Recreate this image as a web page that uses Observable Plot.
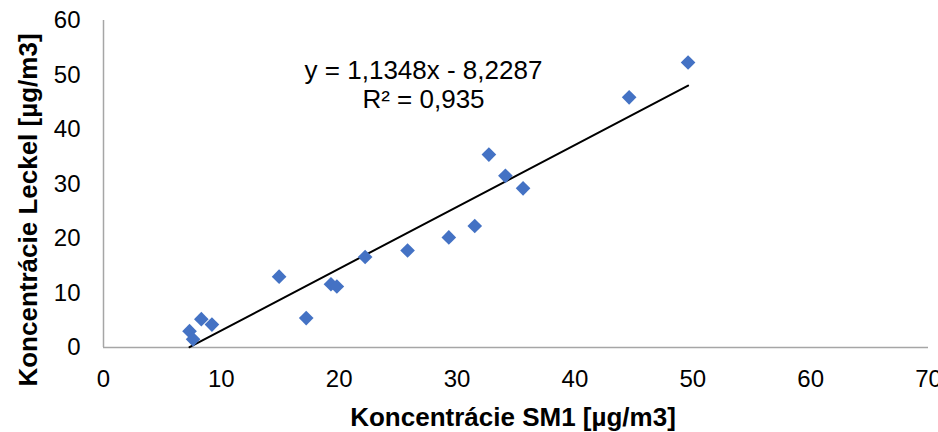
<!DOCTYPE html>
<html>
<head>
<meta charset="utf-8">
<script src="https://cdn.jsdelivr.net/npm/d3@7"></script>
<script src="https://cdn.jsdelivr.net/npm/@observablehq/plot@0.6"></script>
<style>
  html, body { margin: 0; padding: 0; background: #fff; }
  svg { display: block; }
</style>
</head>
<body>
<div id="chart"></div>
<script>
const sm1 = [7.3, 7.6, 8.3, 9.2, 14.9, 17.2, 19.3, 19.8, 22.2, 25.8, 29.3, 31.5, 32.7, 34.1, 35.6, 44.6, 49.6];
const leckel = [3.0, 1.5, 5.2, 4.2, 13.0, 5.4, 11.6, 11.2, 16.6, 17.8, 20.2, 22.3, 35.4, 31.5, 29.2, 45.9, 52.3];
const trendCoef = [1.1348, -8.2287];
const equationLines = ["y = 1,1348x - 8,2287", "R² = 0,935"];
const xTicks = [0, 10, 20, 30, 40, 50, 60, 70];
const yTicks = [0, 10, 20, 30, 40, 50, 60];
const xTitle = "Koncentrácie SM1 [µg/m3]";
const yTitle = "Koncentrácie Leckel [µg/m3]";

const points = sm1.map((x, i) => ({x, y: leckel[i]}));
const xMin = d3.min(sm1), xMax = d3.max(sm1);
const trend = [xMin, xMax].map(x => ({x, y: trendCoef[0] * x + trendCoef[1]}));

const chart = Plot.plot({
  width: 938,
  height: 432,
  marginLeft: 103,
  marginRight: 10,
  marginTop: 20,
  marginBottom: 85,
  style: {fontFamily: "'Liberation Sans', Arial, sans-serif", fontSize: "24px", color: "#000", background: "#fff", overflow: "visible"},
  x: {domain: [0, 70], ticks: xTicks, label: null},
  y: {domain: [0, 60], ticks: yTicks, label: null},
  marks: [
    Plot.axisX({ticks: xTicks, tickSize: 0, tickPadding: 22, fontSize: 24, label: null}),
    Plot.axisY({ticks: yTicks, tickSize: 0, tickPadding: 23, fontSize: 24, label: null}),
    Plot.ruleY([0], {stroke: "#a6a6a6", strokeWidth: 1.5}),
    Plot.ruleX([0], {stroke: "#a6a6a6", strokeWidth: 1.5}),
    Plot.line(trend, {x: "x", y: "y", stroke: "#000", strokeWidth: 2}),
    Plot.dot(points, {x: "x", y: "y", symbol: "diamond2", r: 6.6, fill: "#4472C4", stroke: "none"}),
    Plot.text([equationLines[0]], {frameAnchor: "top-left", dx: 320, dy: 50, textAnchor: "middle", lineAnchor: "middle", fontSize: 26, fill: "#000"}),
    Plot.text([equationLines[1]], {frameAnchor: "top-left", dx: 320, dy: 79, textAnchor: "middle", lineAnchor: "middle", fontSize: 26, fill: "#000"}),
    Plot.text([xTitle], {frameAnchor: "bottom", dx: -3, dy: 70, textAnchor: "middle", lineAnchor: "middle", fontSize: 26, fontWeight: "bold", fill: "#000"}),
    Plot.text([yTitle], {frameAnchor: "left", dx: -75, dy: 26, rotate: -90, textAnchor: "middle", lineAnchor: "middle", fontSize: 26, fontWeight: "bold", fill: "#000"})
  ]
});
document.getElementById("chart").appendChild(chart);
</script>
</body>
</html>
